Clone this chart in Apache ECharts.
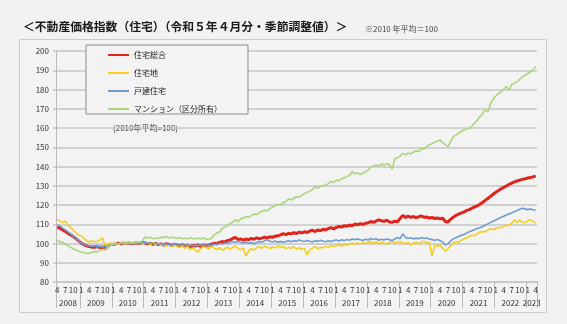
<!DOCTYPE html>
<html><head><meta charset="utf-8">
<script src="https://cdn.jsdelivr.net/npm/echarts@6/dist/echarts.min.js"></script>
<style>html,body{margin:0;padding:0;background:#f2f2f2;}#c{width:567px;height:324px;}</style>
</head><body><div id="c"></div>
<script>
// ---- data ----
const years = ['2008','2009','2010','2011','2012','2013','2014','2015','2016','2017','2018','2019','2020','2021','2022','2023'];
const startMonth = 4;   // 2008 starts in April
const endMonth = 4;     // 2023 ends in April
const monthTickLabels = [1, 4, 7, 10];
const seriesNames = ['住宅総合', '住宅地', '戸建住宅', 'マンション（区分所有）'];
const titleText = '＜不動産価格指数（住宅）（令和５年４月分・季節調整値）＞';
const noteText = '※2010 年平均＝100';
const baseText = '(2010年平均=100)';
const yTicks = { min: 80, max: 200, interval: 10 };

const sogo = [
  108.6,107.9,107.0,106.2,105.3,104.5,103.6,102.5,101.4,
  100.3,99.4,98.8,98.4,98.1,98.0,98.4,97.9,98.2,97.1,98.7,99.5,
  99.6,99.8,100.1,99.9,100.2,100.0,100.3,99.8,100.1,100.4,100.0,100.6,
  100.3,99.9,100.2,99.6,100.1,99.4,99.8,99.2,99.9,99.5,98.9,99.6,
  99.3,98.8,99.4,98.6,99.1,98.4,99.0,98.7,99.3,98.5,99.2,99.0,
  99.2,99.6,100.1,99.8,100.6,101.0,100.7,101.5,101.9,102.6,103.2,102.1,
  102.4,101.8,102.3,102.0,102.6,102.2,102.9,102.5,102.8,103.3,102.9,103.5,
  103.2,103.8,104.0,104.5,105.1,104.6,105.3,105.0,105.6,105.2,105.9,105.5,
  106.1,105.7,106.4,106.9,106.2,107.0,106.6,107.4,107.1,107.8,108.2,107.6,
  108.4,108.9,108.5,109.3,109.0,109.6,109.2,110.1,109.7,110.3,109.9,110.5,
  110.8,111.4,111.0,111.7,112.3,111.8,111.5,112.1,111.2,111.0,111.6,111.3,
  113.0,114.6,113.5,114.2,113.6,114.0,113.4,113.9,114.3,113.6,113.8,113.2,
  113.5,113.0,113.2,112.9,113.1,111.4,111.2,112.6,113.6,114.6,115.2,115.9,
  116.3,117.2,117.6,118.3,119.0,119.5,120.4,121.3,122.4,123.4,124.5,125.6,
  126.6,127.5,128.4,129.2,129.9,130.7,131.4,132.0,132.5,132.9,133.3,133.6,
  134.0,134.3,134.6,135.1
];
const takuchi = [
  112.4,111.6,110.8,111.6,109.6,108.3,107.0,105.6,104.3,
  104.0,102.6,101.5,100.8,101.4,100.9,101.2,101.8,103.0,98.4,99.5,100.3,
  99.8,100.3,99.6,100.5,100.1,99.7,100.6,100.2,99.9,101.0,100.4,99.8,
  100.7,100.2,99.6,100.4,99.3,99.9,98.9,99.6,98.6,99.4,98.4,99.1,
  98.5,97.8,98.9,97.4,98.6,96.8,97.9,96.3,95.6,97.5,98.4,97.8,
  97.2,98.5,97.6,96.9,97.8,96.5,97.4,98.0,97.1,97.9,98.6,97.3,
  96.8,97.6,93.4,96.1,97.3,96.6,97.8,98.3,97.5,98.6,98.1,97.4,
  98.2,97.6,98.8,97.9,98.5,97.3,98.0,97.5,98.3,97.1,97.8,96.9,
  97.5,94.1,96.8,97.6,98.4,97.2,98.1,97.6,98.5,97.9,99.0,98.4,
  98.9,99.3,98.7,99.5,99.1,99.8,100.2,99.6,100.3,99.9,100.5,100.0,
  100.6,100.9,100.2,101.0,99.9,100.5,100.1,99.8,100.7,101.2,100.3,100.8,
  101.0,100.4,99.9,100.6,99.1,100.2,100.7,99.8,100.9,101.2,100.4,100.6,
  93.5,99.2,98.6,99.4,97.5,96.0,97.3,98.8,100.2,101.0,100.6,101.7,
  102.4,103.0,103.6,104.3,104.0,105.2,105.9,106.3,106.0,107.1,107.5,107.2,
  107.8,108.4,108.1,109.0,109.4,109.7,110.5,112.2,111.0,112.3,111.1,110.8,
  111.8,112.3,111.5,110.4
];
const kodate = [
  109.8,109.0,108.0,107.1,106.0,105.0,103.8,102.7,101.5,
  100.3,99.5,99.0,98.8,98.4,98.9,98.2,98.6,98.0,98.9,97.8,99.2,
  99.5,100.0,99.7,100.2,99.9,100.4,100.0,99.7,100.3,100.1,99.8,100.5,
  100.6,100.1,100.4,99.8,100.3,99.6,100.0,99.4,100.2,99.5,99.1,99.8,
  99.5,98.9,99.6,98.7,99.4,98.8,99.2,98.6,99.3,99.0,99.5,98.9,
  99.3,99.0,99.6,99.4,100.1,99.7,100.3,100.0,100.6,101.1,100.5,101.0,
  100.6,100.2,100.8,100.1,100.5,99.9,100.4,101.1,100.6,101.5,101.9,101.2,
  100.8,101.3,100.7,101.1,100.6,101.0,101.4,100.9,101.5,101.2,101.8,101.3,
  101.0,101.6,101.2,100.8,101.5,101.1,101.7,101.3,100.9,101.4,101.0,101.6,
  101.8,101.3,101.9,101.5,102.1,101.7,102.3,101.9,102.4,102.0,101.6,102.2,
  101.8,102.6,102.1,102.5,101.7,102.2,101.8,102.4,102.0,101.6,102.3,103.1,
  102.5,105.0,103.2,102.6,103.0,102.4,102.8,102.5,103.1,102.6,102.9,102.3,
  102.0,101.7,102.1,101.5,100.8,99.2,99.8,101.3,102.4,103.0,103.6,104.3,
  104.7,105.4,106.1,106.6,107.3,107.8,108.2,108.7,109.5,110.2,110.9,111.6,
  112.2,112.9,113.6,114.2,114.8,115.4,115.9,116.6,117.1,117.8,118.3,118.0,
  117.6,117.9,117.5,117.3
];
const mansion = [
  101.5,101.0,100.5,99.6,98.9,98.0,97.2,96.8,96.0,
  95.6,95.2,95.0,94.9,95.4,95.8,95.6,96.3,96.8,97.0,98.2,99.2,
  99.6,100.0,99.7,100.3,99.9,100.4,100.1,100.5,100.2,101.0,100.6,101.3,
  103.4,102.8,103.2,102.5,102.9,102.6,103.3,103.0,103.6,102.9,103.4,103.0,
  102.7,103.1,102.5,102.9,102.4,103.0,102.6,102.3,102.8,102.4,102.9,102.2,
  102.3,102.6,104.5,105.3,106.0,107.8,108.5,109.2,110.4,111.0,112.4,111.3,
  112.8,113.2,114.0,113.6,114.5,115.3,115.0,116.1,116.7,117.3,117.0,118.1,
  119.0,119.6,120.3,120.1,121.2,121.8,123.2,122.6,123.5,124.3,124.0,125.2,
  125.9,126.6,127.2,128.0,129.3,128.8,129.6,130.0,130.4,131.1,132.4,131.6,
  133.0,132.6,133.5,134.1,134.8,135.3,137.5,136.2,136.8,135.9,136.5,137.2,
  138.2,139.9,140.3,140.8,140.2,141.3,140.7,141.5,140.9,138.6,143.9,144.6,
  145.3,146.8,146.1,147.0,146.6,147.4,148.2,147.7,149.4,149.0,150.5,151.2,
  151.9,152.6,153.3,153.8,152.4,151.2,150.3,153.0,155.5,156.3,157.4,158.2,
  158.9,159.6,159.8,161.0,162.5,164.1,165.8,167.3,169.4,168.5,172.5,175.0,
  176.6,178.0,178.8,180.1,181.5,179.8,182.6,183.2,184.1,185.3,186.6,187.4,
  188.3,189.2,190.1,192.0
];
const colors = ['#e2231a', '#f5cd1c', '#6e9bd0', '#a9d57c'];

// ---- categories (year/month) ----
const cats = [];
years.forEach(function (y, yi) {
  const m0 = yi === 0 ? startMonth : 1;
  const m1 = yi === years.length - 1 ? endMonth : 12;
  for (let m = m0; m <= m1; m++) cats.push(y + '/' + m);
});
const monthOf = function (c) { return +c.split('/')[1]; };
const yearOf = function (c) { return c.split('/')[0]; };
const yearLabelIdx = {};
years.forEach(function (y) {
  const idx = [];
  cats.forEach(function (c, i) { if (yearOf(c) === y) idx.push(i); });
  yearLabelIdx[Math.floor(idx.length / 2) + idx[0]] = { y: y, even: idx.length % 2 === 0 };
});

const chart = echarts.init(document.getElementById('c'), null, { renderer: 'canvas' });
const FONT = '"Noto Sans CJK JP", "Noto Sans", sans-serif';
const gridColor = '#c6c6c6';
const band = (537 - 56) / cats.length;

chart.setOption({
  backgroundColor: '#f2f2f2',
  animation: false,
  textStyle: { fontFamily: FONT },
  title: [
    { text: titleText, left: 18, top: 16, textStyle: { fontSize: 11.8, fontWeight: 'bold', color: '#1a1a1a', fontFamily: FONT } },
    { text: noteText, left: 360, top: 20, textStyle: { fontSize: 8, fontWeight: 'normal', color: '#444', fontFamily: FONT } }
  ],
  graphic: [
    { type: 'rect', z: -10, shape: { x: 19.5, y: 39.5, width: 527, height: 273 }, style: { fill: '#f3f3f3', stroke: '#cccccc', lineWidth: 1 } },
    { type: 'text', left: 113, top: 124, style: { text: baseText, font: '8px ' + FONT, fill: '#333' } }
  ],
  legend: {
    orient: 'vertical', left: 86, top: 45,
    padding: [6, 26, 1, 21], itemGap: 10, itemWidth: 21, itemHeight: 10,
    borderColor: '#8c8c8c', borderWidth: 1, backgroundColor: '#f3f3f3',
    itemStyle: { opacity: 0 },
    textStyle: { fontSize: 8, color: '#222', fontFamily: FONT },
    data: seriesNames
  },
  grid: { left: 56, right: 30, top: 51, bottom: 42, containLabel: false },
  xAxis: [
    {
      type: 'category', data: cats, boundaryGap: true, position: 'bottom',
      axisLine: { show: true, lineStyle: { color: gridColor, width: 1.5 } },
      axisTick: { show: true, length: 26, lineStyle: { color: '#b8b8b8', width: 1 },
        interval: function (i) { return i === 0 || monthOf(cats[i]) === 1; } },
      axisLabel: { interval: function (i) { return monthTickLabels.indexOf(monthOf(cats[i])) >= 0; },
        formatter: function (v) { return String(monthOf(v)); },
        fontSize: 8, color: '#333', margin: 4, fontFamily: FONT },
      splitLine: { show: false }
    },
    {
      type: 'category', data: cats, boundaryGap: true, position: 'bottom',
      axisLine: { show: false }, axisTick: { show: false }, splitLine: { show: false },
      axisLabel: { interval: function (i) { return !!yearLabelIdx[i]; },
        formatter: function (v, i) { const o = yearLabelIdx[i]; return o ? (o.even ? '{s|' + o.y + '}' : o.y) : ''; },
        rich: { s: { padding: [0, band, 0, 0], fontSize: 8, color: '#333', fontFamily: FONT } },
        fontSize: 8, color: '#333', margin: 16.5, fontFamily: FONT }
    }
  ],
  yAxis: {
    type: 'value', min: yTicks.min, max: yTicks.max, interval: yTicks.interval,
    axisLine: { show: true, lineStyle: { color: '#b8b8b8', width: 1 } },
    axisTick: { show: true, length: 3, lineStyle: { color: gridColor, width: 1.5 } },
    axisLabel: { fontSize: 8, color: '#333', margin: 7, fontFamily: FONT },
    splitLine: { show: true, lineStyle: { color: gridColor, width: 1.5 } }
  },
  series: [sogo, takuchi, kodate, mansion].map(function (d, k) {
    return {
      name: seriesNames[k], type: 'line', data: d, xAxisIndex: 0,
      symbol: 'none', showSymbol: false, smooth: false,
      lineStyle: { color: colors[k], width: k === 0 ? 3 : 1.6 },
      itemStyle: { color: colors[k] }
    };
  })
});
</script>
</body></html>
